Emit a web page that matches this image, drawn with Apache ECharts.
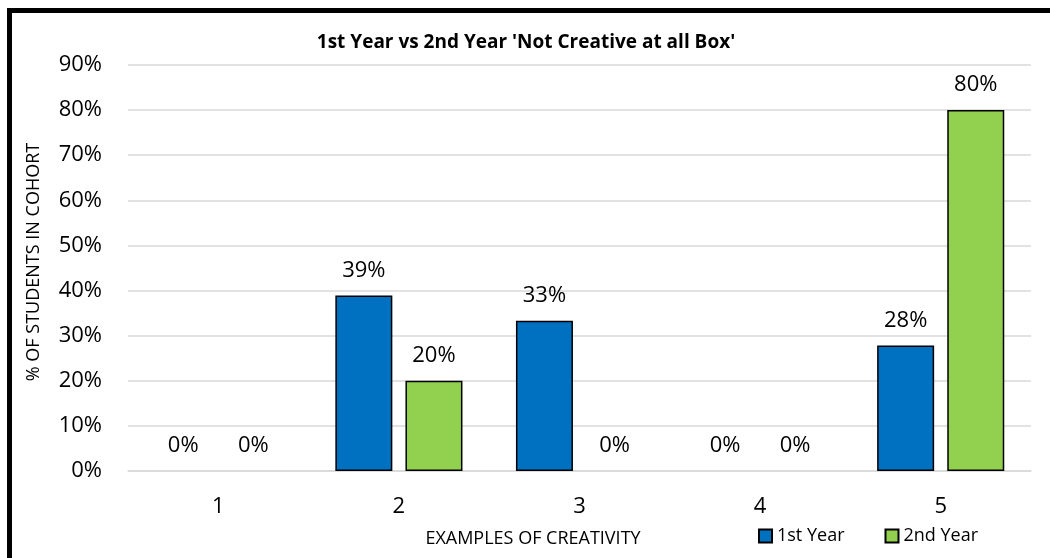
<!DOCTYPE html>
<html>
<head>
<meta charset="utf-8">
<script src="https://cdn.jsdelivr.net/npm/echarts@6/dist/echarts.min.js"></script>
<style>
html,body{margin:0;padding:0;background:#fff;}
#chart{width:1050px;height:558px;}
</style>
</head>
<body>
<div id="chart"></div>
<script>
const categories = ['1', '2', '3', '4', '5'];
const firstYear = [0, 38.9, 33.3, 0, 27.8];
const secondYear = [0, 20, 0, 0, 80];
const seriesNames = ['1st Year', '2nd Year'];
const titleText = "1st Year vs 2nd Year 'Not Creative at all Box'";
const xAxisTitle = 'EXAMPLES OF CREATIVITY';
const yAxisTitle = '% OF STUDENTS IN COHORT';

const FONT = '"Open Sans", "Noto Sans", sans-serif';
const chart = echarts.init(document.getElementById('chart'));

const labelCfg = {
  show: true,
  position: 'top',
  distance: 14,
  color: '#000',
  fontFamily: FONT,
  fontSize: 22,
  formatter: p => Math.round(p.value) + '%'
};

// zero-height bars show no outline
const toItems = arr => arr.map(v => v === 0 ? { value: v, itemStyle: { borderWidth: 0 } } : v);

chart.setOption({
  backgroundColor: '#fff',
  animation: false,
  title: [{
    text: titleText,
    left: 521,
    top: 28,
    textAlign: 'center',
    textStyle: { fontFamily: FONT, fontWeight: 'bold', fontSize: 19, color: '#000' }
  }, {
    text: xAxisTitle,
    left: 528,
    top: 525,
    textAlign: 'center',
    textStyle: { fontFamily: FONT, fontWeight: 'normal', fontSize: 18, color: '#000' }
  }],
  graphic: [{
    type: 'rect',
    shape: { x: 9.5, y: 10.5, width: 1100, height: 600 },
    style: { fill: 'none', stroke: '#000', lineWidth: 5 },
    silent: true
  }],
  legend: {
    left: 753,
    top: 522,
    itemWidth: 13,
    itemHeight: 13,
    itemGap: 40,
    icon: 'rect',
    textStyle: { fontFamily: FONT, fontSize: 18, color: '#000' },
    data: seriesNames
  },
  grid: { left: 128, right: 19, top: 65, bottom: 87 },
  xAxis: {
    type: 'category',
    data: categories,
    axisLine: { show: true, lineStyle: { color: '#D9D9D9', width: 1.5 } },
    axisTick: { show: false },
    axisLabel: { color: '#000', fontFamily: FONT, fontSize: 22, margin: 25 }
  },
  yAxis: {
    type: 'value',
    min: 0,
    max: 90,
    interval: 10,
    name: yAxisTitle,
    nameLocation: 'middle',
    nameGap: 85,
    nameRotate: 90,
    nameTextStyle: { fontFamily: FONT, fontSize: 18, color: '#000', padding: [0, 0, 0, 12] },
    axisLine: { show: false },
    axisTick: { show: false },
    splitLine: { lineStyle: { color: '#D9D9D9', width: 1.5 } },
    axisLabel: { color: '#000', fontFamily: FONT, fontSize: 22, margin: 26, formatter: '{value}%' }
  },
  series: [{
    name: seriesNames[0],
    type: 'bar',
    data: toItems(firstYear),
    barWidth: 57,
    barGap: '23%',
    itemStyle: { color: '#0070C0', borderColor: '#000', borderWidth: 1.5 },
    label: labelCfg
  }, {
    name: seriesNames[1],
    type: 'bar',
    data: toItems(secondYear),
    barWidth: 57,
    barGap: '23%',
    itemStyle: { color: '#92D050', borderColor: '#000', borderWidth: 1.5 },
    label: labelCfg
  }]
});
</script>
</body>
</html>
